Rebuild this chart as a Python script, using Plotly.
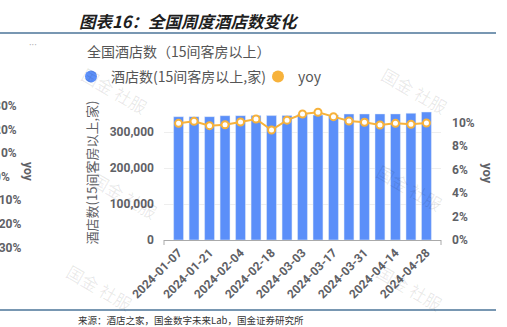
import plotly.graph_objects as go

# ---------------- data ----------------
dates = ["2024-01-07", "2024-01-14", "2024-01-21", "2024-01-28", "2024-02-04", "2024-02-11",
         "2024-02-18", "2024-02-25", "2024-03-03", "2024-03-10", "2024-03-17", "2024-03-24",
         "2024-03-31", "2024-04-07", "2024-04-14", "2024-04-21", "2024-04-28"]
hotels = [342500, 342600, 342700, 345300, 345400, 345500, 345600, 345700, 350000, 347000,
          347200, 350000, 350100, 350200, 350300, 352000, 355500]
yoy = [9.93, 10.10, 9.73, 9.81, 10.04, 10.30, 9.36, 10.20, 10.72, 10.87, 10.50, 10.13,
       10.02, 9.79, 9.93, 9.85, 9.96]
tick_dates = dates[::2]
left_ticks = [0, 100000, 200000, 300000]
left_labels = ["0", "100,000", "200,000", "300,000"]
right_ticks = [0, 2, 4, 6, 8, 10]
right_labels = ["0%", "2%", "4%", "6%", "8%", "10%"]
neighbour_ticks = ["30%", "20%", "10%", "0%", "-10%", "-20%", "-30%"]

bar_name = "酒店数(15间客房以上,家)"
line_name = "yoy"
header = "图表16：全国周度酒店数变化"
subtitle = "全国酒店数（15间客房以上）"
source = "来源：酒店之家，国金数字未来Lab，国金证券研究所"

# ---------------- styling ----------------
W, H = 507, 327
L, R, T, B = 164, 441, 105, 240
BLUE = "#5B8FF9"
ORANGE = "#F7B23B"
GREY = "#5f6166"
FONT = "Roboto, 'Noto Sans CJK SC', sans-serif"
CJK = "'Noto Sans CJK SC', sans-serif"


def px(x):
    return (x - L) / (R - L)


def py(y):
    return (B - y) / (B - T)


fig = go.Figure()
fig.add_trace(go.Bar(x=dates, y=hotels, name=bar_name, marker_color=BLUE,
                     showlegend=False, yaxis="y"))
fig.add_trace(go.Scatter(x=dates, y=yoy, name=line_name, mode="lines+markers",
                         line=dict(color=ORANGE, width=2),
                         marker=dict(symbol="circle", size=7, color="white",
                                     line=dict(color=ORANGE, width=2)),
                         showlegend=False, yaxis="y2"))
# legend entries (circle symbols like the reference)
fig.add_trace(go.Scatter(x=[None], y=[None], mode="markers", name=bar_name, legend="legend",
                         marker=dict(symbol="circle", size=12, color=BLUE)))
fig.add_trace(go.Scatter(x=[None], y=[None], mode="markers", name=line_name, legend="legend2",
                         marker=dict(symbol="circle", size=12, color=ORANGE), yaxis="y2"))

tickfont = dict(family=FONT, size=12, color=GREY, weight=700)

annotations = []
annotations.append(dict(text="<b><i>" + header + "</i></b>", x=px(77), y=py(21), xanchor="left",
                        yanchor="middle", font=dict(family=CJK, size=16.5, color="#1f1f1f",
                                                    style="italic", weight=700)))
annotations.append(dict(text=subtitle, x=px(85), y=py(51), xanchor="left", yanchor="middle",
                        font=dict(family=CJK, size=14, color="#555555")))
annotations.append(dict(text="···", x=px(27), y=py(45), xanchor="left", yanchor="middle",
                        font=dict(family=FONT, size=10, color="#aaaaaa")))
annotations.append(dict(text=source, x=px(76), y=py(320), xanchor="left", yanchor="middle",
                        font=dict(family=CJK, size=9.5, color="#333333")))
annotations.append(dict(text="yoy", x=px(488), y=py(173), textangle=90, xanchor="center",
                        yanchor="middle", font=dict(family=FONT, size=13, color=GREY, weight=700)))
# cut-off neighbouring chart on the left edge
for i, t in enumerate(neighbour_ticks):
    annotations.append(dict(text=t, x=px(-8), y=py(106 + i * 23.6), xanchor="left",
                            yanchor="middle", font=dict(family=FONT, size=12, color=GREY,
                                                         weight=700)))
annotations.append(dict(text="yoy", x=px(28), y=py(172), textangle=90, xanchor="center",
                        yanchor="middle", font=dict(family=FONT, size=12, color=GREY, weight=700)))
# watermarks
for (wx, wy) in [(115, 90), (415, 90), (125, 195), (410, 187), (100, 287), (410, 287)]:
    annotations.append(dict(text="国金 社服", x=px(wx), y=py(wy), textangle=30,
                            xanchor="center", yanchor="middle",
                            font=dict(family=CJK, size=17, color="rgba(0,0,0,0.09)")))
for a in annotations:
    a.update(xref="paper", yref="paper", showarrow=False)

shapes = [
    dict(type="line", xref="paper", yref="paper", x0=px(0), x1=px(496), y0=py(33), y1=py(33),
         line=dict(color="#4B7599", width=1.5)),
    dict(type="line", xref="paper", yref="paper", x0=px(0), x1=px(496), y0=py(310), y1=py(310),
         line=dict(color="#4B7599", width=1.5)),
    # small end ticks of the category axis
    dict(type="line", xref="paper", yref="paper", x0=0, x1=0, y0=0, y1=py(245),
         line=dict(color="#aaaaaa", width=1)),
    dict(type="line", xref="paper", yref="paper", x0=1, x1=1, y0=0, y1=py(245),
         line=dict(color="#aaaaaa", width=1)),
]

legend_common = dict(orientation="h", xref="container", yref="container",
                     y=1 - 77 / H, xanchor="left", yanchor="middle",
                     font=dict(family=CJK, size=14, color="#555555"),
                     itemsizing="trace", bgcolor="rgba(0,0,0,0)")

fig.update_layout(
    width=W, height=H,
    margin=dict(l=L, r=W - R, t=T, b=H - B, pad=0, autoexpand=False),
    paper_bgcolor="white", plot_bgcolor="white",
    bargap=0.36,
    font=dict(family=FONT, color=GREY),
    legend=dict(legend_common, x=71 / W),
    legend2=dict(legend_common, x=258 / W),
    xaxis=dict(type="category", range=[-0.94, 16.94], tickvals=tick_dates, ticktext=tick_dates,
               tickangle=-45, tickfont=tickfont, showgrid=False, showline=True,
               linecolor="#aaaaaa", linewidth=1, ticks="", zeroline=False),
    yaxis=dict(range=[0, 375000], tickvals=left_ticks, ticktext=left_labels, tickfont=tickfont,
               showgrid=True, gridcolor="#eeeeee", gridwidth=1, zeroline=False, showline=False,
               title=dict(text=bar_name, font=dict(family=CJK, size=13, color=GREY), standoff=9),
               ticklabelstandoff=9),
    yaxis2=dict(range=[0, 11.49], tickvals=right_ticks, ticktext=right_labels, overlaying="y",
                side="right", tickfont=tickfont, showgrid=False, zeroline=False,
                showline=False, ticklabelstandoff=10),
    annotations=annotations,
    shapes=shapes,
)

fig.write_html("out.html")
